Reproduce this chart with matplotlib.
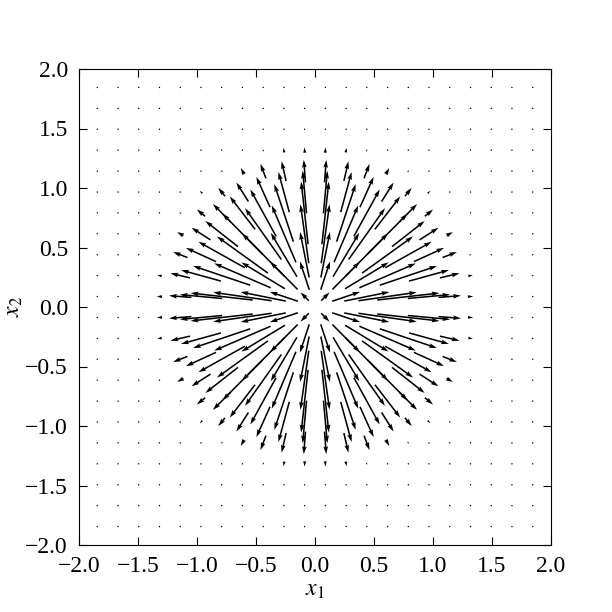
import numpy as np
import matplotlib
matplotlib.use("Agg")
import matplotlib.pyplot as plt

plt.rcParams['font.family'] = ['Liberation Serif', 'DejaVu Serif']
plt.rcParams['mathtext.fontset'] = 'stix'
plt.rcParams['axes.unicode_minus'] = True

# grid of sample points (same along x1 and x2)
coords = [-1.845, -1.669, -1.494, -1.318, -1.142, -0.966, -0.791, -0.615,
          -0.439, -0.264, -0.088, 0.088, 0.264, 0.439, 0.615, 0.791,
          0.966, 1.142, 1.318, 1.494, 1.669, 1.845]

# arrow length for the first quadrant
# rows: x2 = 0.088 ... 1.318, columns: x1 = 0.088 ... 1.318
speed_quadrant = [
    [0.10, 0.25, 0.39, 0.50, 0.53, 0.36, 0.19, 0.045],
    [0.25, 0.33, 0.43, 0.52, 0.51, 0.35, 0.17, 0.04],
    [0.39, 0.43, 0.51, 0.53, 0.45, 0.28, 0.13, 0.02],
    [0.50, 0.52, 0.53, 0.48, 0.35, 0.19, 0.06, 0.0],
    [0.53, 0.51, 0.45, 0.35, 0.21, 0.09, 0.02, 0.0],
    [0.36, 0.35, 0.28, 0.19, 0.09, 0.03, 0.0, 0.0],
    [0.19, 0.17, 0.13, 0.06, 0.02, 0.0, 0.0, 0.0],
    [0.045, 0.04, 0.02, 0.0, 0.0, 0.0, 0.0, 0.0],
]

ticks = [-2.0, -1.5, -1.0, -0.5, 0.0, 0.5, 1.0, 1.5, 2.0]

c = np.array(coords)
n = len(c)
half = n // 2
q = np.zeros((half, half))
q[:8, :8] = np.array(speed_quadrant)
# mirror the quadrant into the full grid
full = np.zeros((n, n))
full[half:, half:] = q
full[half:, :half] = q[:, ::-1]
full[:half, half:] = q[::-1, :]
full[:half, :half] = q[::-1, ::-1]

X, Y = np.meshgrid(c, c)
R = np.hypot(X, Y)
U = full * X / R
V = full * Y / R

fig = plt.figure(figsize=(6.12, 6.12), dpi=100)
ax = fig.add_axes([79/612, 67/612, 472/612, 476/612])
ax.quiver(X, Y, U, V, angles='xy', scale_units='xy', scale=1, pivot='middle',
          color='k', width=0.0033)
ax.set_xlim(-2, 2)
ax.set_ylim(-2, 2)
ax.set_xticks(ticks)
ax.set_yticks(ticks)
ax.tick_params(direction='in', top=True, right=True, labelsize=17, length=6,
               pad=8)
ax.set_xlabel('$x_1$', fontsize=17, labelpad=2)
ax.set_ylabel('$x_2$', fontsize=17, labelpad=0)

fig.savefig('out.png', dpi=100, facecolor='white')
